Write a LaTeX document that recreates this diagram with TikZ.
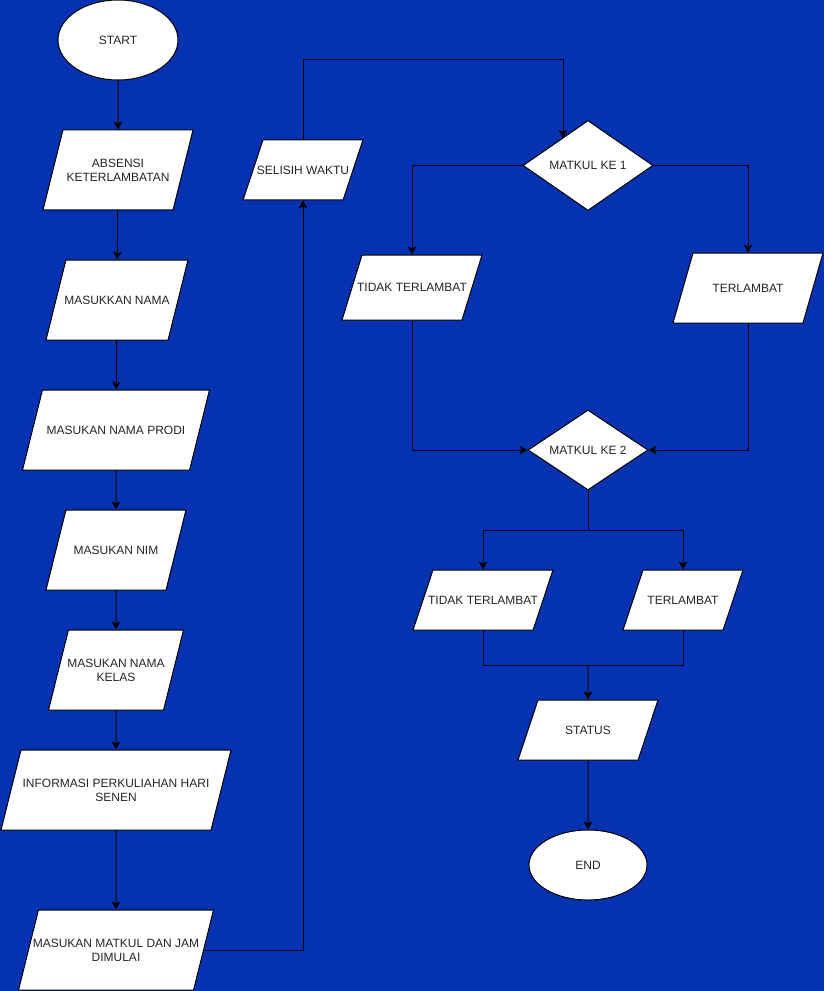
\documentclass[tikz,border=0pt]{standalone}
\usepackage{fontspec}
\setmainfont{Liberation Sans}
\usepackage{tikz}
\usetikzlibrary{arrows.meta,positioning,shapes.geometric}
\definecolor{bgblue}{RGB}{4,50,176}
\tikzset{%
	startstop/.style = {draw, fill=white, ellipse, inner sep=0pt, line width=.75pt},
	io/.style        = {draw, fill=white, trapezium, trapezium stretches body=true, inner xsep=-8pt, inner ysep=0pt, align=center, line width=.75pt},
	slant/.style     = {trapezium left angle=#1, trapezium right angle=180-#1},
	tall/.style      = {slant=76, text height=33.1pt, text depth=26.9pt},
	talltwo/.style   = {slant=76, text height=38.8pt, text depth=21.2pt},
	short/.style     = {slant=71.6, text height=25.6pt, text depth=19.4pt},
	decision/.style  = {draw, fill=white, diamond, inner sep=0pt, aspect=1.4, line width=.75pt},
	arrow/.style     = {line width=.75pt,-{Stealth[length=6pt,width=6.5pt,inset=1.5pt]}},
	line/.style      = {line width=.75pt},
}

\begin{document}
\begin{tikzpicture}[x=.75pt,y=-.75pt,every node/.style={font=\fontsize{9}{11}\selectfont, text=black!85}]
	\fill[bgblue] (0,0) rectangle (824,991);
	\useasboundingbox (0,0) rectangle (824,991);
	
	% left column
	\node[startstop, minimum width=90pt, minimum height=60pt] (start) at (118,40) {START};
	\node[io, talltwo, minimum width=112.5pt] (absensi) at (118,170) {ABSENSI\\KETERLAMBATAN};
	\node[io, tall, minimum width=106.5pt] (nama) at (117,300) {MASUKKAN NAMA};
	\node[io, tall, minimum width=140.25pt] (prodi) at (116,430) {MASUKAN NAMA PRODI};
	\node[io, tall, minimum width=105pt] (nim) at (116,550) {MASUKAN NIM};
	\node[io, talltwo, minimum width=101.25pt] (kelas) at (116,670) {MASUKAN NAMA\\KELAS};
	\node[io, talltwo, minimum width=172.5pt] (info) at (116,790) {INFORMASI PERKULIAHAN HARI\\SENEN};
	\node[io, talltwo, minimum width=146.25pt] (matkul) at (116,950) {MASUKAN MATKUL DAN JAM\\DIMULAI};
	
	\node[io, short, minimum width=90pt] (selisih) at (303,170) {SELISIH WAKTU};
	
	% right part
	\node[decision, minimum width=97.5pt, minimum height=67.5pt] (mk1) at (588,165.5) {MATKUL KE 1};
	\node[io, slant=72.9, text height=27.5pt, text depth=21.25pt, minimum width=105pt] (tidak1) at (412,287.5) {TIDAK TERLAMBAT};
	\node[io, slant=74.05, text height=29.35pt, text depth=23.15pt, minimum width=112.5pt] (telat1) at (748,288) {TERLAMBAT};
	\node[decision, minimum width=90pt, minimum height=60pt] (mk2) at (588,450) {MATKUL KE 2};
	\node[io, short, minimum width=105pt] (tidak2) at (483,600) {TIDAK TERLAMBAT};
	\node[io, short, minimum width=90pt] (telat2) at (683,600) {TERLAMBAT};
	\node[io, short, minimum width=105pt] (status) at (588,730) {STATUS};
	\node[startstop, minimum width=88.5pt, minimum height=52.5pt] (finish) at (588,865) {END};
	
	\coordinate (top) at (563,60);
	\coordinate (split) at (588,530);
	\coordinate (join) at (588,665);
	
	\draw[arrow] (start) -- (absensi);
	\draw[arrow] (absensi) -- (nama);
	\draw[arrow] (nama) -- (prodi);
	\draw[arrow] (prodi) -- (nim);
	\draw[arrow] (nim) -- (kelas);
	\draw[arrow] (kelas) -- (info);
	\draw[arrow] (info) -- (matkul);
	
	\draw[arrow] (matkul.east) -| (selisih.south);
	\draw[arrow] (selisih.north) |- (top) -- ++(0,78);
	
	\draw[arrow] (mk1.west) -| (tidak1.north);
	\draw[arrow] (mk1.east) -| (telat1.north);
	\draw[arrow] (tidak1.south) |- (mk2.west);
	\draw[arrow] (telat1.south) |- (mk2.east);
	
	\draw[line] (mk2.south) -- (split);
	\draw[arrow] (split) -| (tidak2.north);
	\draw[arrow] (split) -| (telat2.north);
	\draw[line] (tidak2.south) |- (join);
	\draw[line] (telat2.south) |- (join);
	\draw[arrow] (join) -- (status);
	\draw[arrow] (status) -- (finish);
	
\end{tikzpicture}
\end{document}
